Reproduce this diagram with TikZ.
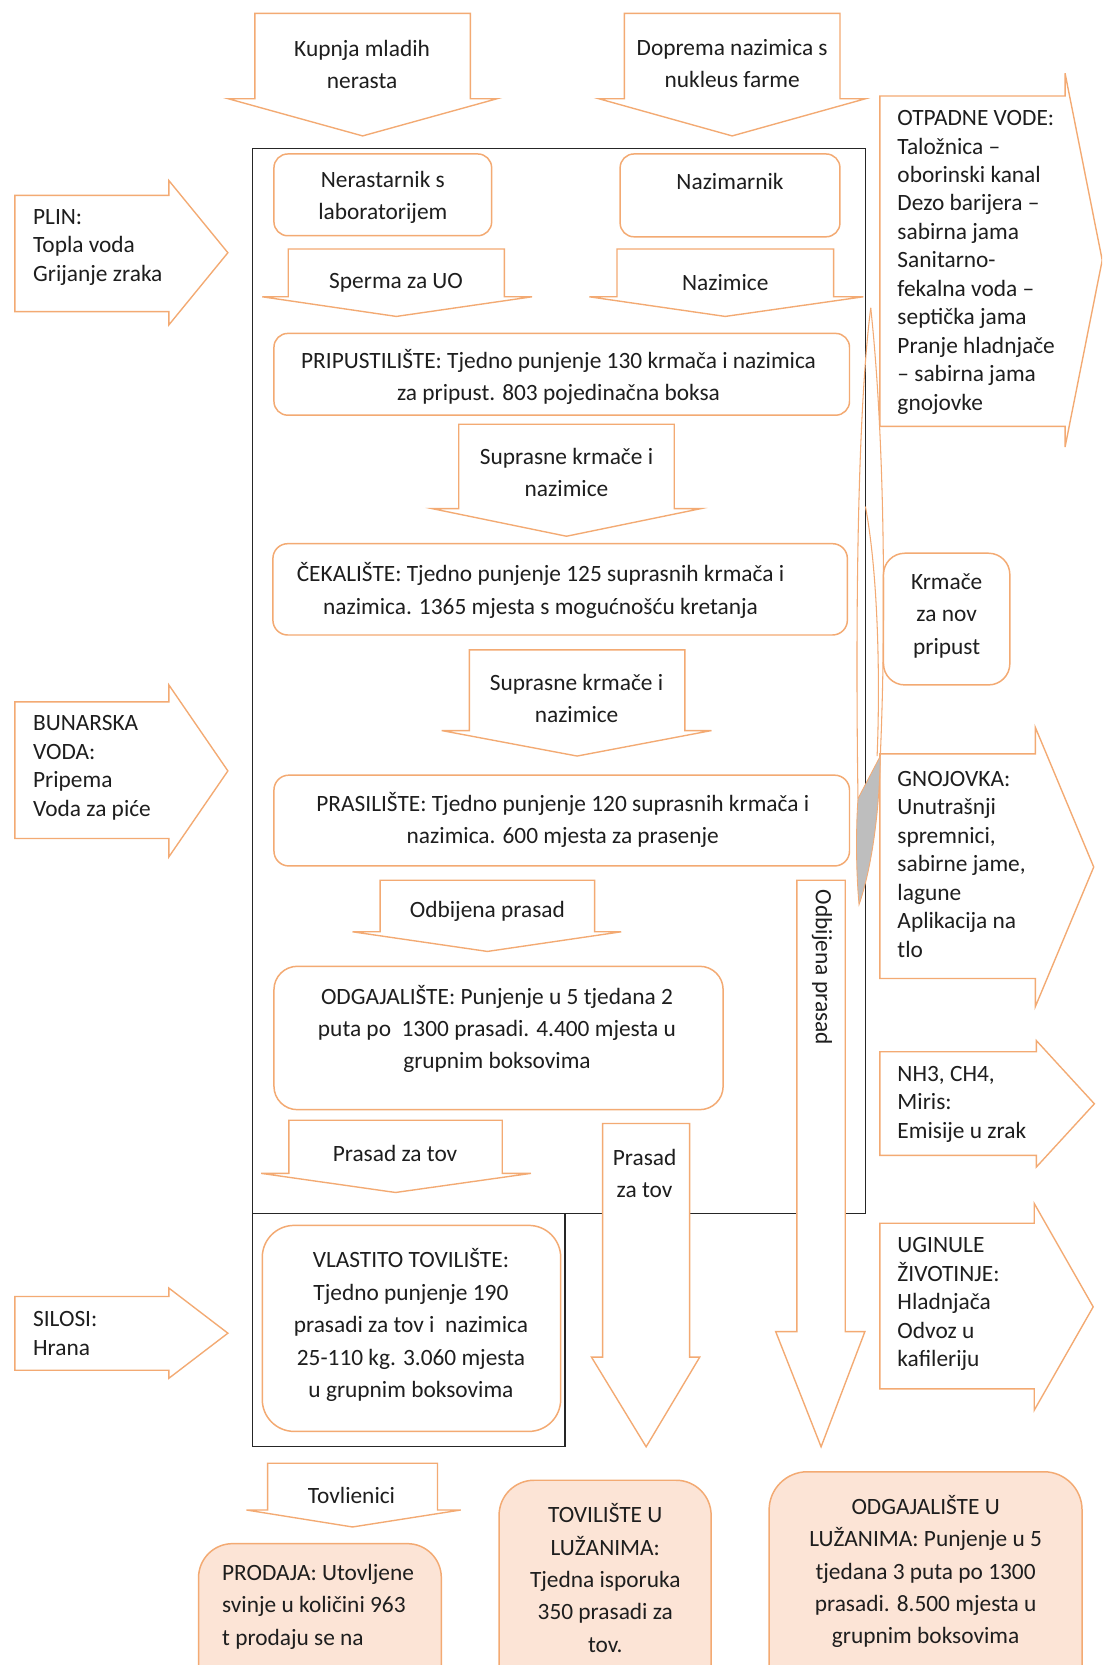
\documentclass[tikz,border=0pt]{standalone}
\usepackage{fontspec}
\setmainfont{Carlito}
\definecolor{ol}{RGB}{243,170,115}
\definecolor{peach}{RGB}{252,228,214}
\definecolor{txtc}{RGB}{30,30,30}
\definecolor{crv}{RGB}{190,190,190}
\newcommand{\downblk}[7]{% L R T S WL WR tipy
  \draw[shp] (#1,#3) -- (#2,#3) -- (#2,#4) -- (#6,#4) -- ({(#1+#2)/2},#7) -- (#5,#4) -- (#1,#4) -- cycle;}
\newcommand{\rightblk}[7]{% L T B HX HT HB TX
  \draw[shp] (#1,#2) -- (#4,#2) -- (#4,#5) -- (#7,{(#5+#6)/2}) -- (#4,#6) -- (#4,#3) -- (#1,#3) -- cycle;}
\begin{document}
\begin{tikzpicture}[x=1pt,y=-1pt,
  shp/.style={draw=ol, line width=1.3pt, fill=white, line join=miter},
  rbx/.style={draw=ol, line width=1.4pt, fill=white, rounded corners=#1},
  pbx/.style={draw=ol, line width=1.4pt, fill=peach, rounded corners=#1},
  frm/.style={draw=black!85, line width=1.2pt},
  tx/.style={inner sep=0pt, text=txtc, align=center, font=\fontsize{22}{30.5}\selectfont},
  sx/.style={inner sep=0pt, text=txtc, align=left, anchor=west, font=\fontsize{22}{26.8}\selectfont},
  px/.style={inner sep=0pt, text=txtc, align=left, anchor=west, font=\fontsize{22}{30.5}\selectfont},
]
\useasboundingbox (0,0) rectangle (1038,1568);
\fill[white] (0,0) rectangle (1038,1568);
\clip (0,0) rectangle (1038,1568);

% frames
\draw[frm] (238,140) rectangle (815,1143);
\draw[frm] (238,1143) rectangle (532,1362);

% top incoming arrows
\downblk{240}{443}{12.6}{93}{215}{468}{128}
\downblk{588}{791}{12.6}{93}{564}{815}{128}

% boxes and arrows inside
\draw[rbx=13pt] (258,145) rectangle (463,222);
\draw[rbx=13pt] (584,145) rectangle (791,223);
\downblk{271.5}{475}{234.5}{279.5}{247}{501}{298}
\downblk{581}{785}{234.5}{279.5}{555}{813}{298}
\draw[rbx=13pt] (258,314) rectangle (800,391);
\downblk{432}{635}{399.5}{479}{407}{660}{505}
\draw[rbx=14pt] (257,512) rectangle (798,598);
\downblk{442}{645}{612}{688}{416}{670}{712}
\draw[rbx=14pt] (258,730) rectangle (800,815.5);
\downblk{358}{560}{829}{877.5}{332}{585}{896}
\draw[rbx=22pt] (258,910) rectangle (681,1045);
\downblk{272}{473}{1055}{1105}{246}{500}{1123}
\draw[rbx=30pt] (247,1154) rectangle (528,1348);
\downblk{567.5}{649.5}{1058}{1278}{557}{659}{1362.5}
\downblk{750.5}{796}{829}{1254}{730.5}{814.5}{1362.5}

% left side arrows
\rightblk{14}{184}{293.5}{159}{170}{306}{214.6}
\rightblk{14}{661}{789.6}{159}{645}{807}{214.6}
\rightblk{14}{1221}{1290.4}{159}{1213}{1298}{214.6}

% right side arrows
\rightblk{828.6}{90.4}{401.5}{1003}{69}{421}{1038}
\rightblk{828.6}{710}{921.5}{975}{685}{948}{1030}
\rightblk{828.6}{990.5}{1088}{976}{980}{1099}{1030.6}
\rightblk{828.6}{1152}{1308}{974}{1133.4}{1328}{1029.5}
\draw[rbx=20pt] (832,521) rectangle (951,645);

% curved return arrow
\draw[ol, line width=1pt] (820,290) .. controls (834,420) and (834,600) .. (829,712);
\draw[ol, line width=1pt] (820,290) .. controls (806,400) and (806,620) .. (808,752);
\draw[ol, line width=1pt] (815,477) .. controls (827,540) and (829,640) .. (826,712);
\fill[crv, draw=ol, line width=0.8pt] (808,752) -- (829,712) .. controls (828,770) and (820,820) .. (809,852) .. controls (806,820) and (806,780) .. (808,752) -- cycle;

% bottom boxes
\downblk{252}{412}{1378}{1422}{232}{434}{1438}
\draw[pbx=32pt] (187,1453.7) rectangle (415.6,1620);
\draw[pbx=33pt] (470,1394) rectangle (669.7,1620);
\draw[pbx=36pt] (724.3,1386) rectangle (1019,1620);

% texts
\node[tx] (kup) at (341,61) {Kupnja mladih\\nerasta};
\node[tx] (dop) at (689.5,60) {Doprema nazimica s\\nukleus farme};
\node[tx] (ner) at (360.5,186) {Nerastarnik s\\laboratorijem};
\node[tx] (naz) at (687.5,171) {Nazimarnik};
\node[tx] (spe) at (373,266) {Sperma za UO};
\node[tx] (nzc) at (683,266) {Nazimice};
\node[tx] (pri) at (526,355) {PRIPUSTILIŠTE: Tjedno punjenje 130 krmača i nazimica\\za pripust. 803 pojedinačna boksa};
\node[tx] (sup1) at (533.5,445) {Suprasne krmače i\\nazimice};
\node[tx] (cek) at (509,556) {ČEKALIŠTE: Tjedno punjenje 125 suprasnih krmača i\\nazimica. 1365 mjesta s mogućnošću kretanja};
\node[tx] (sup2) at (543,658) {Suprasne krmače i\\nazimice};
\node[tx] (pra) at (530,772) {PRASILIŠTE: Tjedno punjenje 120 suprasnih krmača i\\nazimica. 600 mjesta za prasenje};
\node[tx] (odb) at (459,858) {Odbijena prasad};
\node[tx] (odg) at (468,969) {ODGAJALIŠTE: Punjenje u 5 tjedana 2\\puta po \ 1300 prasadi. 4.400 mjesta u\\grupnim boksovima};
\node[tx] (ptv) at (372,1086) {Prasad za tov};
\node[tx] (vla) at (387,1248) {VLASTITO TOVILIŠTE:\\Tjedno punjenje 190\\prasadi za tov i \ nazimica\\25-110 kg. 3.060 mjesta\\u grupnim boksovima};
\node[tx] (ptv2) at (607,1105) {Prasad\\za tov};
\node[tx, rotate=-90] (odb2) at (774,911) {Odbijena prasad};
\node[tx] (krm) at (891.5,580) {Krmače\\za nov\\pripust};
\node[tx] (tov) at (331,1408) {Tovlienici};

\node[sx] (plin) at (31,233) {PLIN:\\Topla voda\\Grijanje zraka};
\node[sx] (bun) at (31,723) {BUNARSKA\\VODA:\\Pripema\\Voda za piće};
\node[sx] (sil) at (31,1256) {SILOSI:\\Hrana};

\node[sx] (otp) at (845,247) {OTPADNE VODE:\\Taložnica –\\oborinski kanal\\Dezo barijera –\\sabirna jama\\Sanitarno-\\fekalna voda –\\septička jama\\Pranje hladnjače\\– sabirna jama\\gnojovke};
\node[sx] (gno) at (845,814) {GNOJOVKA:\\Unutrašnji\\spremnici,\\sabirne jame,\\lagune\\Aplikacija na\\tlo};
\node[sx] (nh3) at (845,1040) {NH3, CH4,\\Miris:\\Emisije u zrak};
\node[sx] (ugi) at (845,1228) {UGINULE\\ŽIVOTINJE:\\Hladnjača\\Odvoz u\\kafileriju};

\node[px] (pro) at (209,1513) {PRODAJA: Utovljene\\svinje u količini 963\\t prodaju se na};
\node[tx] (tlu) at (570,1486) {TOVILIŠTE U\\LUŽANIMA:\\Tjedna isporuka\\350 prasadi za\\tov.};
\node[tx] (olu) at (871.7,1480) {ODGAJALIŠTE U\\LUŽANIMA: Punjenje u 5\\tjedana 3 puta po 1300\\prasadi. 8.500 mjesta u\\grupnim boksovima};
\end{tikzpicture}
\end{document}
